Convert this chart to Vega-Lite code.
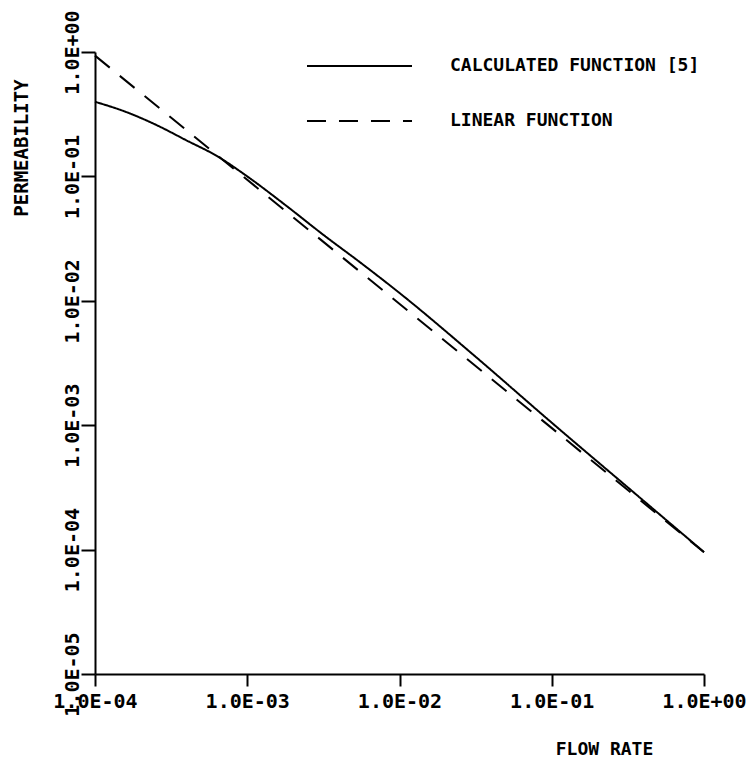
{
  "$schema": "https://vega.github.io/schema/vega-lite/v6.json",
  "width": 609,
  "height": 622,
  "autosize": {"type": "none"},
  "padding": {"left": 95, "top": 52, "right": 42, "bottom": 85},
  "background": "white",
  "config": {
    "view": {"stroke": null},
    "font": "DejaVu Sans Mono",
    "axis": {
      "grid": false,
      "domainColor": "black",
      "domainWidth": 2,
      "tickColor": "black",
      "tickWidth": 2,
      "labelColor": "black",
      "titleColor": "black",
      "labelFont": "DejaVu Sans Mono",
      "titleFont": "DejaVu Sans Mono",
      "labelFontWeight": "bold",
      "titleFontWeight": "bold",
      "labelOverlap": false,
      "labelBound": false,
      "labelFlush": false
    }
  },
  "data": {
    "values": [
      {"series": "CALCULATED FUNCTION [5]", "q": 0.0001, "p": 0.398},
      {"series": "CALCULATED FUNCTION [5]", "q": 0.0001585, "p": 0.331},
      {"series": "CALCULATED FUNCTION [5]", "q": 0.0002512, "p": 0.26},
      {"series": "CALCULATED FUNCTION [5]", "q": 0.0003981, "p": 0.195},
      {"series": "CALCULATED FUNCTION [5]", "q": 0.000631, "p": 0.146},
      {"series": "CALCULATED FUNCTION [5]", "q": 0.001, "p": 0.1},
      {"series": "CALCULATED FUNCTION [5]", "q": 0.001778, "p": 0.0589},
      {"series": "CALCULATED FUNCTION [5]", "q": 0.003162, "p": 0.0339},
      {"series": "CALCULATED FUNCTION [5]", "q": 0.005623, "p": 0.02},
      {"series": "CALCULATED FUNCTION [5]", "q": 0.01, "p": 0.01156},
      {"series": "CALCULATED FUNCTION [5]", "q": 0.03162, "p": 0.00355},
      {"series": "CALCULATED FUNCTION [5]", "q": 0.1, "p": 0.001047},
      {"series": "CALCULATED FUNCTION [5]", "q": 0.3162, "p": 0.000316},
      {"series": "CALCULATED FUNCTION [5]", "q": 1, "p": 0.0000955},
      {"series": "LINEAR FUNCTION", "q": 0.0001, "p": 0.935},
      {"series": "LINEAR FUNCTION", "q": 1, "p": 0.0000953}
    ]
  },
  "mark": {"type": "line", "color": "black", "strokeWidth": 2, "interpolate": "monotone", "clip": false},
  "encoding": {
    "x": {
      "field": "q",
      "type": "quantitative",
      "scale": {"type": "log", "domain": [0.0001, 1], "nice": false},
      "axis": {
        "values": [0.0001, 0.001, 0.01, 0.1, 1],
        "labelExpr": "'1.0E' + (round(log(datum.value)/LN10) < 0 ? '-' : '+') + (abs(round(log(datum.value)/LN10)) < 10 ? '0' : '') + abs(round(log(datum.value)/LN10))",
        "tickSize": 12,
        "labelPadding": 5,
        "labelFontSize": 20,
        "title": "FLOW RATE",
        "titleFontSize": 18,
        "titleX": 509,
        "titleY": 80,
        "titleAlign": "center",
        "titleBaseline": "alphabetic"
      }
    },
    "y": {
      "field": "p",
      "type": "quantitative",
      "scale": {"type": "log", "domain": [0.00001, 1], "nice": false},
      "axis": {
        "values": [0.00001, 0.0001, 0.001, 0.01, 0.1, 1],
        "labelExpr": "'1.0E' + (round(log(datum.value)/LN10) < 0 ? '-' : '+') + (abs(round(log(datum.value)/LN10)) < 10 ? '0' : '') + abs(round(log(datum.value)/LN10))",
        "tickSize": 14,
        "labelPadding": 3,
        "labelAngle": 270,
        "labelAlign": "center",
        "labelBaseline": "alphabetic",
        "labelFontSize": 20,
        "title": "PERMEABILITY",
        "titleFontSize": 19,
        "titleAngle": 270,
        "titleX": -73.5,
        "titleY": 95.5,
        "titleAlign": "center",
        "titleBaseline": "middle"
      }
    },
    "strokeDash": {
      "field": "series",
      "type": "nominal",
      "scale": {"domain": ["CALCULATED FUNCTION [5]", "LINEAR FUNCTION"], "range": [[1, 0], [19, 13]]},
      "legend": {
        "title": null,
        "orient": "none",
        "legendX": 219,
        "legendY": -31.5,
        "direction": "vertical",
        "symbolType": "M-1.18,0H1.18",
        "symbolSize": 7921,
        "symbolStrokeWidth": 2,
        "symbolStrokeColor": "black",
        "symbolFillColor": "transparent",
        "labelFont": "DejaVu Sans Mono",
        "labelFontWeight": "bold",
        "labelFontSize": 18,
        "labelColor": "black",
        "labelOffset": 45,
        "labelLimit": 400,
        "rowPadding": 0
      }
    }
  }
}
